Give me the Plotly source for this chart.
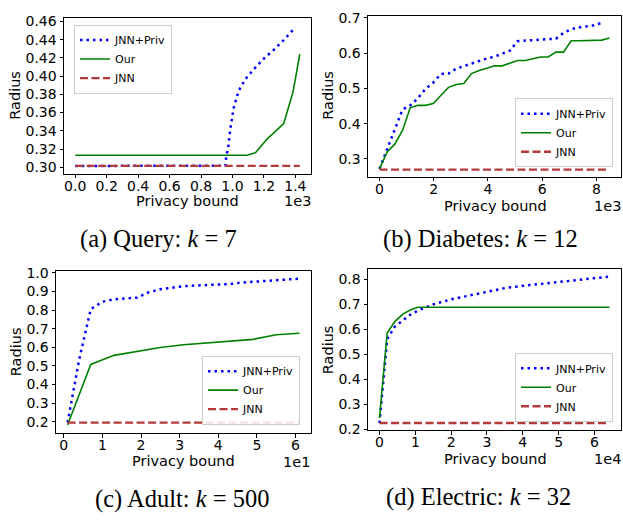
import plotly.graph_objects as go

# ---------------- data ----------------
# (a) Query: k = 7   (privacy bound, x in raw units; axis shown in 1e3)
query_priv_x = [0, 200, 400, 600, 800, 955, 961, 972, 986, 1008, 1039, 1082, 1135, 1199, 1262, 1326, 1400]
query_priv_y = [0.3015, 0.3015, 0.3015, 0.3015, 0.3015, 0.3018, 0.3132, 0.3203, 0.3416, 0.3654,
                0.3836, 0.3967, 0.4074, 0.4191, 0.4287, 0.4394, 0.4536]
query_our_x = [0, 1092, 1146, 1220, 1326, 1385, 1428]
query_our_y = [0.3132, 0.3132, 0.3160, 0.3310, 0.3480, 0.3825, 0.4240]
query_jnn_x = [0, 1428]
query_jnn_y = [0.3015, 0.3015]

# (b) Diabetes: k = 12
diab_x = [0, 282.7, 565.4, 848.1, 1130.8, 1413.5, 1696.2, 1978.9, 2261.6, 2544.3, 2827, 3109.7,
          3392.4, 3675.1, 3957.8, 4240.5, 4523.2, 4805.9, 5088.6, 5371.3, 5654, 5936.7, 6219.4,
          6502.1, 6784.8, 7067.5, 7350.2, 7632.9, 7915.6, 8198.3, 8481]
diab_priv_y = [0.272, 0.330, 0.385, 0.440, 0.452, 0.472, 0.499, 0.516, 0.541, 0.542, 0.556, 0.563,
               0.570, 0.579, 0.585, 0.590, 0.598, 0.607, 0.634, 0.635, 0.636, 0.637, 0.640, 0.641,
               0.657, 0.668, 0.673, 0.677, 0.679, 0.686]
diab_our_y = [0.272, 0.320, 0.342, 0.381, 0.445, 0.452, 0.452, 0.457, 0.480, 0.503, 0.511, 0.514,
              0.542, 0.551, 0.557, 0.564, 0.564, 0.571, 0.579, 0.579, 0.585, 0.589, 0.589, 0.603,
              0.603, 0.635, 0.635, 0.635, 0.637, 0.637, 0.643]
diab_jnn_y = 0.270

# (c) Adult: k = 500
adult_priv_x = [1, 4, 7, 10, 13, 16, 19, 22, 25, 28, 31, 34, 37, 40, 43, 46, 49, 52, 55, 58, 61]
adult_priv_y = [0.196, 0.535, 0.805, 0.845, 0.858, 0.864, 0.867, 0.896, 0.912, 0.920, 0.929,
                0.932, 0.934, 0.937, 0.940, 0.948, 0.952, 0.956, 0.962, 0.966, 0.969]
adult_our_x = [1, 7, 13, 19, 25, 31, 37, 43, 49, 55, 61]
adult_our_y = [0.183, 0.508, 0.557, 0.578, 0.599, 0.614, 0.625, 0.632, 0.643, 0.668, 0.676]
adult_jnn_x = [1, 61]
adult_jnn_y = [0.196, 0.196]

# (d) Electric: k = 32
elec_priv_x = [0, 2140, 4280, 6420, 8560, 10700, 15000, 20000, 25000, 30000, 35000, 40000,
               45000, 50000, 55000, 60000, 64200]
elec_priv_y = [0.224, 0.560, 0.610, 0.634, 0.657, 0.674, 0.699, 0.719, 0.735, 0.750, 0.764,
               0.773, 0.781, 0.789, 0.797, 0.806, 0.810]
elec_our_x = [0, 2140, 4280, 6420, 8560, 10700, 64200]
elec_our_y = [0.244, 0.584, 0.630, 0.659, 0.676, 0.687, 0.687]
elec_jnn_x = [0, 64200]
elec_jnn_y = [0.224, 0.224]

series_names = ["JNN+Priv", "Our", "JNN"]
captions = ["(a) Query: <i>k</i> = 7", "(b) Diabetes: <i>k</i> = 12",
            "(c) Adult: <i>k</i> = 500", "(d) Electric: <i>k</i> = 32"]

a_xticks = [0.0, 0.2, 0.4, 0.6, 0.8, 1.0, 1.2, 1.4]
a_yticks = [0.30, 0.32, 0.34, 0.36, 0.38, 0.40, 0.42, 0.44, 0.46]
b_xticks = [0, 2, 4, 6, 8]
b_yticks = [0.3, 0.4, 0.5, 0.6, 0.7]
c_xticks = [0, 1, 2, 3, 4, 5, 6]
c_yticks = [0.2, 0.3, 0.4, 0.5, 0.6, 0.7, 0.8, 0.9, 1.0]
d_xticks = [0, 1, 2, 3, 4, 5, 6]
d_yticks = [0.2, 0.3, 0.4, 0.5, 0.6, 0.7, 0.8]

# ---------------- figure ----------------
W, H = 623, 521
def fx(p): return p / W
def fy(p): return 1 - p / H

panels = [
    dict(priv=(query_priv_x, query_priv_y), our=(query_our_x, query_our_y), jnn=(query_jnn_x, query_jnn_y),
         scale=1e3, exp="1e3", xt=a_xticks, yt=a_yticks, xfmt="{:.1f}", yfmt="{:.2f}",
         xr=[-0.0714, 1.4994], yr=[0.293, 0.464], dom=(64, 311, 12, 172),
         leg=dict(x=74, y=19, xa="left", ya="top"), cap=(158, 239), rad=(15, 92), pb=(187, 200), ex=(297, 200)),
    dict(priv=(diab_x[:len(diab_priv_y)], diab_priv_y), our=(diab_x, diab_our_y),
         jnn=([diab_x[0], diab_x[-1]], [diab_jnn_y, diab_jnn_y]),
         scale=1e3, exp="1e3", xt=b_xticks, yt=b_yticks, xfmt="{:d}", yfmt="{:.1f}",
         xr=[-0.424, 8.905], yr=[0.250, 0.706], dom=(368, 621, 10, 175),
         leg=dict(x=613, y=130, xa="right", ya="middle"), cap=(480, 239), rad=(328, 92), pb=(495, 205), ex=(607, 205)),
    dict(priv=(adult_priv_x, adult_priv_y), our=(adult_our_x, adult_our_y), jnn=(adult_jnn_x, adult_jnn_y),
         scale=1e1, exp="1e1", xt=c_xticks, yt=c_yticks, xfmt="{:d}", yfmt="{:.1f}",
         xr=[-0.2, 6.4], yr=[0.1395, 1.009], dom=(56, 311, 272, 438),
         leg=dict(x=300, y=394, xa="right", ya="middle"), cap=(182, 506), rad=(16, 355), pb=(183, 467), ex=(296, 468)),
    dict(priv=(elec_priv_x, elec_priv_y), our=(elec_our_x, elec_our_y), jnn=(elec_jnn_x, elec_jnn_y),
         scale=1e4, exp="1e4", xt=d_xticks, yt=d_yticks, xfmt="{:d}", yfmt="{:.1f}",
         xr=[-0.321, 6.741], yr=[0.1955, 0.8393], dom=(368, 621, 270, 435),
         leg=dict(x=613, y=391, xa="right", ya="middle"), cap=(478, 504), rad=(328, 353), pb=(495, 465), ex=(607, 465)),
]

BLUE = "#0000ff"
GREEN = "#008000"
RED = "#b23a3a"
TICKFONT = dict(family="DejaVu Sans", size=14, color="black")
LABELFONT = dict(family="DejaVu Sans", size=14.5, color="black")
CAPFONT = dict(family="Liberation Serif", size=24.5, color="black")

fig = go.Figure()
layout = dict(width=W, height=H, margin=dict(l=0, r=0, t=0, b=0),
              paper_bgcolor="white", plot_bgcolor="white", showlegend=True)
annotations = []

for i, p in enumerate(panels):
    n = "" if i == 0 else str(i + 1)
    xa, ya = "x" + n, "y" + n
    lg = "legend" + n
    s = p["scale"]
    styles = [("priv", series_names[0], dict(color=BLUE, width=2.5, dash="2.5px,4px")),
              ("our", series_names[1], dict(color=GREEN, width=1.6)),
              ("jnn", series_names[2], dict(color=RED, width=2.3, dash="8px,3.5px"))]
    for key, name, line in styles:
        xs, ys = p[key]
        fig.add_trace(go.Scatter(x=[v / s for v in xs], y=ys, mode="lines", name=name,
                                 line=line, xaxis=xa, yaxis=ya, legend=lg))
    x0, x1, y0, y1 = p["dom"]
    axcommon = dict(showline=True, mirror=True, linecolor="black", linewidth=1,
                    ticks="outside", ticklen=3.5, tickwidth=1, tickcolor="black",
                    showgrid=False, zeroline=False, tickfont=TICKFONT)
    layout["xaxis" + n] = dict(axcommon, domain=[fx(x0), fx(x1)], range=p["xr"], anchor=ya,
                               tickmode="array", tickvals=p["xt"], ticklabelstandoff=-4,
                               ticktext=[p["xfmt"].format(v) for v in p["xt"]])
    layout["yaxis" + n] = dict(axcommon, domain=[fy(y1), fy(y0)], range=p["yr"], anchor=xa,
                               tickmode="array", tickvals=p["yt"],
                               ticktext=[p["yfmt"].format(v) for v in p["yt"]])
    L = p["leg"]
    layout[lg] = dict(x=fx(L["x"]), y=fy(L["y"]), xanchor=L["xa"], yanchor=L["ya"],
                      xref="paper", yref="paper",
                      bgcolor="rgba(255,255,255,0.85)", bordercolor="#cccccc", borderwidth=1,
                      font=dict(family="DejaVu Sans", size=11, color="black"),
                      tracegroupgap=0, itemwidth=30)
    annotations += [
        dict(text=captions[i], x=fx(p["cap"][0]), y=fy(p["cap"][1]), xref="paper", yref="paper",
             showarrow=False, xanchor="center", yanchor="middle", font=CAPFONT),
        dict(text="Radius", x=fx(p["rad"][0]), y=fy(p["rad"][1]), xref="paper", yref="paper",
             showarrow=False, xanchor="center", yanchor="middle", textangle=-90, font=LABELFONT),
        dict(text="Privacy bound", x=fx(p["pb"][0]), y=fy(p["pb"][1]), xref="paper", yref="paper",
             showarrow=False, xanchor="center", yanchor="middle", font=LABELFONT),
        dict(text=p["exp"], x=fx(p["ex"][0]), y=fy(p["ex"][1]), xref="paper", yref="paper",
             showarrow=False, xanchor="center", yanchor="middle", font=LABELFONT),
    ]

layout["annotations"] = annotations
fig.update_layout(**layout)
fig.write_html("out.html", config={"displayModeBar": False},
               post_script="document.body.style.margin='0';document.body.style.padding='0';")
